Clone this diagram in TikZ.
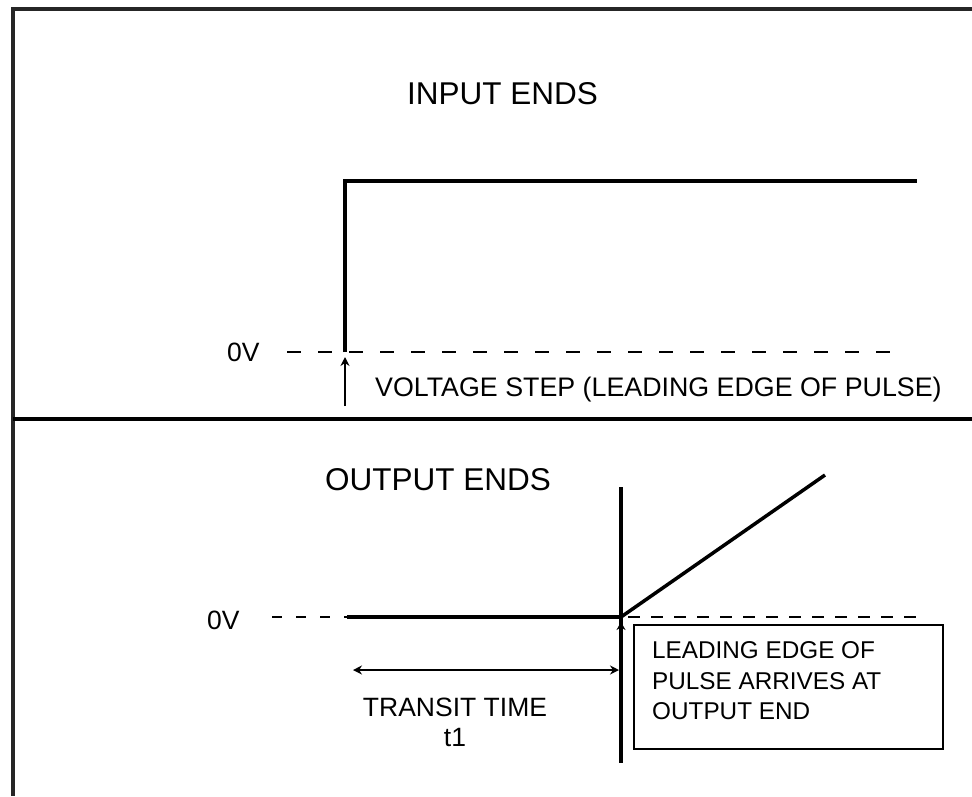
\documentclass[tikz,border=0pt]{standalone}
\usepackage{fontspec}
\setmainfont{Liberation Sans}
\usetikzlibrary{arrows.meta}
\begin{document}
\begin{tikzpicture}[x=1pt,y=-1pt,
  frame/.style={line width=3.5pt,black!85},
  sig/.style={line width=3.5pt,black},
  zeroline/.style={line width=2.8pt,dash pattern=on 14pt off 17pt},
  zerolineb/.style={line width=2.6pt,dash pattern=on 12pt off 11pt},
  title/.style={font=\fontsize{31.5}{36}\selectfont,inner sep=0pt,anchor=west},
  lbl/.style={font=\fontsize{26.5}{30}\selectfont,inner sep=0pt},
  tip/.style={-{Stealth[length=9pt,width=9pt]},line width=2.5pt}
]
\useasboundingbox (0,0) rectangle (972,796);
% frame
\coordinate (tl) at (13,9);
\coordinate (tr) at (972,9);
\coordinate (bl) at (13,796);
\coordinate (dl) at (13,419);
\coordinate (dr) at (972,419);
\draw[frame] (tr) -- (tl) -- (bl);
\draw[line width=3.5pt] (dl) -- (dr);

% top panel
\node[title] (tin) at (407,94) {INPUT ENDS};
\node[lbl,anchor=west] (z1) at (227,352) {0V};
\coordinate (s0) at (345,352);
\coordinate (s1) at (345,181);
\coordinate (s2) at (917,181);
\coordinate (d1a) at (287,352);
\coordinate (d1b) at (893,352);
\draw[zeroline] (d1a) -- (d1b);
\draw[sig] (s0) -- (s1) -- (s2);
\coordinate (a1s) at (345,406);
\coordinate (a1e) at (345,357);
\draw[tip] (a1s) -- (a1e);
\node[lbl,anchor=west,font=\fontsize{26.8}{30}\selectfont] (vs) at (375,390) {VOLTAGE STEP (LEADING EDGE OF PULSE)};

% bottom panel
\node[title] (tout) at (325,480) {OUTPUT ENDS};
\node[lbl,anchor=west] (z2) at (207,620) {0V};
\coordinate (d2a) at (272,617);
\coordinate (d2b) at (347,617);
\coordinate (j) at (621,617);
\coordinate (d3a) at (628,617);
\coordinate (d3b) at (925,617);
\coordinate (r) at (825,475);
\coordinate (vt) at (621,487);
\coordinate (vb) at (621,763);
\draw[line width=2.6pt,dash pattern=on 10pt off 14pt] (d2a) -- (d2b);
\draw[sig] (d2b) -- (j);
\draw[zerolineb] (d3a) -- (d3b);
\draw[line width=3.5pt] (vt) -- (vb);
\draw[line width=3.5pt] (j) -- (r);
\coordinate (a2s) at (621,640);
\coordinate (a2e) at (621,622);
\draw[-{Stealth[length=8pt,width=9pt]},line width=2pt] (a2s) -- (a2e);

% transit time
\coordinate (tta) at (353,670);
\coordinate (ttb) at (619,670);
\draw[{Stealth[length=9pt,width=9pt]}-{Stealth[length=9pt,width=9pt]},line width=2.6pt] (tta) -- (ttb);
\node[lbl] (tt) at (455,707) {TRANSIT TIME};
\node[lbl] (t1) at (455,737) {t1};

% box
\node[draw,line width=1.8pt,anchor=north west,minimum width=309pt,minimum height=124pt,inner sep=0pt] (box) at (633,624) {};
\node[anchor=north west,inner sep=0pt,align=left,font=\fontsize{24.3}{30.5}\selectfont] (boxtext) at (652,641.5)
      {LEADING EDGE OF\\PULSE ARRIVES AT\\OUTPUT END};
\end{tikzpicture}
\end{document}
